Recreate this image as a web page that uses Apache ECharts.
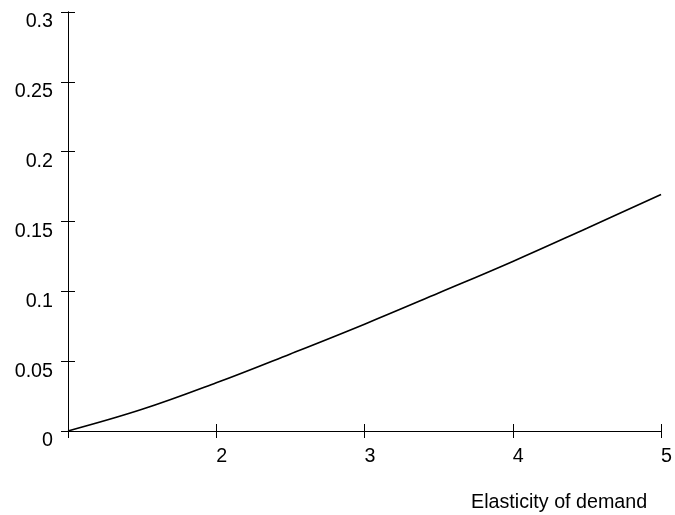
<!DOCTYPE html>
<html>
<head>
<meta charset="utf-8">
<script src="https://cdn.jsdelivr.net/npm/echarts@6/dist/echarts.min.js"></script>
<style>html,body{margin:0;padding:0;background:#fff}#c{width:675px;height:515px}</style>
</head>
<body>
<div id="c"></div>
<script>
var elasticity = [1, 1.5, 2, 2.5, 3, 3.5, 4, 4.5, 5];
var values = [0, 0.0155, 0.0345, 0.0552, 0.0765, 0.0988, 0.1214, 0.1452, 0.1693];
var xTickLabels = ['', '2', '3', '4', '5'];
var yTickLabels = ['0', '0.05', '0.1', '0.15', '0.2', '0.25', '0.3'];
var xTitle = 'Elasticity of demand';

var font = 'Liberation Sans, Arial, Helvetica, sans-serif';
var fs = 19.7;
var chart = echarts.init(document.getElementById('c'), null, {renderer: 'canvas'});
var axisLine = {show: true, onZero: false, lineStyle: {color: '#000', width: 1}};
function xAx(inside, showLabel) {
  return {
    type: 'value', min: 1, max: 5, interval: 1, position: 'bottom',
    axisLine: axisLine,
    axisTick: {show: true, inside: inside, length: 7, lineStyle: {color: '#000', width: 1}},
    axisLabel: {show: showLabel, margin: 16, align: 'left', color: '#000', fontFamily: font, fontSize: fs,
      formatter: function (v) { return xTickLabels[Math.round(v) - 1]; }},
    splitLine: {show: false}
  };
}
function yAx(inside, showLabel) {
  return {
    type: 'value', min: 0, max: 0.3, interval: 0.05, position: 'left',
    axisLine: axisLine,
    axisTick: {show: true, inside: inside, length: 7, lineStyle: {color: '#000', width: 1}},
    axisLabel: {show: showLabel, margin: 15, align: 'right', verticalAlign: 'top', color: '#000', fontFamily: font, fontSize: fs,
      formatter: function (v) { return yTickLabels[Math.round(v / 0.05)]; }},
    splitLine: {show: false}
  };
}
chart.setOption({
  animation: false,
  backgroundColor: '#fff',
  grid: {left: 68, right: 11, top: 12, bottom: 84, containLabel: false},
  xAxis: [xAx(false, true), xAx(true, false)],
  yAxis: [yAx(false, true), yAx(true, false)],
  graphic: [{type: 'text', left: 471, top: 493, style: {text: xTitle, fill: '#000', font: fs + 'px ' + font}}],
  series: [{
    type: 'line', xAxisIndex: 0, yAxisIndex: 0, smooth: 0.4, showSymbol: false,
    lineStyle: {color: '#000', width: 1.6},
    data: elasticity.map(function (x, i) { return [x, values[i]]; })
  }]
});
</script>
</body>
</html>
